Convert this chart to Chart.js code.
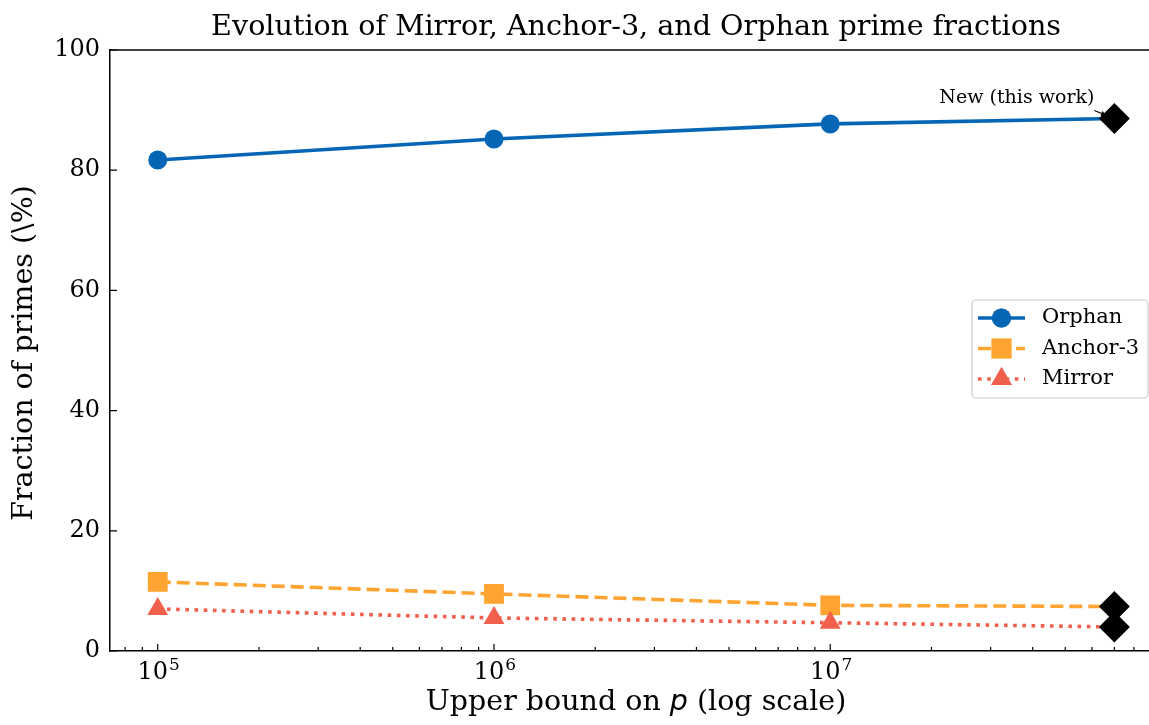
<!DOCTYPE html>
<html><head><meta charset="utf-8">
<script src="https://cdn.jsdelivr.net/npm/chart.js@4.4.1/dist/chart.umd.min.js"></script>
<style>html,body{margin:0;padding:0;background:#fff;overflow:hidden}#wrap{width:1149px;height:725px}</style>
</head><body><div id="wrap"><canvas id="c" width="1149" height="725"></canvas></div>
<script>
const titleText = "Evolution of Mirror, Anchor-3, and Orphan prime fractions";
const xLabelParts = ["Upper bound on ", "p", " (log scale)"];
const yLabel = "Fraction of primes (\\%)";
const annotationText = "New (this work)";
const seriesNames = ["Orphan", "Anchor-3", "Mirror"];
const bounds = [1e5, 1e6, 1e7, 7e7];
const orphan = [81.7, 85.2, 87.7, 88.6];
const anchor3 = [11.5, 9.5, 7.6, 7.4];
const mirror = [7.0, 5.5, 4.7, 4.0];
const newWorkX = 7e7;
const newWork = [88.6, 7.4, 4.0];
const xMajorTicks = [1e5, 1e6, 1e7];
const yTicks = [0, 20, 40, 60, 80, 100];

const SERIF = "'DejaVu Serif', serif";
const BLUE = "#0466b4", ORANGE = "#ffa431", RED = "#f0604c";
const X_MIN = Math.pow(10, 4.858), X_MAX = Math.pow(10, 7.948), X_VIRT_MAX = Math.pow(10, 7.987);

function pts(ys){ return ys.map((y,i)=>({x: bounds[i], y})); }

const decor = {
  id: 'decor',
  afterDraw(chart){
    const ctx = chart.ctx, ca = chart.chartArea, xs = chart.scales.x, ys = chart.scales.y;
    const vRight = xs.getPixelForValue(X_VIRT_MAX);
    const cx = (ca.left + vRight) / 2;
    ctx.save();
    // top spine
    ctx.strokeStyle = "#000"; ctx.lineWidth = 1.5;
    ctx.beginPath(); ctx.moveTo(ca.left, ca.top); ctx.lineTo(ca.right, ca.top); ctx.stroke();
    // inward ticks
    ctx.lineWidth = 1.2;
    ctx.beginPath();
    for (const v of xMajorTicks){ const p = xs.getPixelForValue(v); ctx.moveTo(p, ca.bottom); ctx.lineTo(p, ca.bottom - 7); }
    for (let d = 4; d <= 8; d++){
      for (let k = 2; k <= 9; k++){
        const v = k * Math.pow(10, d);
        if (v < X_MIN || v > X_MAX) continue;
        const p = xs.getPixelForValue(v); ctx.moveTo(p, ca.bottom); ctx.lineTo(p, ca.bottom - 4);
      }
    }
    for (const v of yTicks){ const p = ys.getPixelForValue(v); ctx.moveTo(ca.left, p); ctx.lineTo(ca.left + 7, p); }
    ctx.stroke();
    ctx.fillStyle = "#000";
    // x tick labels 10^n
    for (const v of xMajorTicks){
      const p = xs.getPixelForValue(v);
      const e = String(Math.round(Math.log10(v)));
      ctx.font = "24px " + SERIF; const wb = ctx.measureText("10").width;
      ctx.font = "17px " + SERIF; const we = ctx.measureText(e).width;
      const s = p - (wb + we + 1) / 2 + 1;
      ctx.textAlign = "left"; ctx.textBaseline = "alphabetic";
      ctx.font = "24px " + SERIF; ctx.fillText("10", s, 679);
      ctx.font = "17px " + SERIF; ctx.fillText(e, s + wb + 1, 670);
    }
    // title
    ctx.font = "28.6px " + SERIF; ctx.textAlign = "center"; ctx.textBaseline = "alphabetic";
    ctx.fillText(titleText, cx, 35);
    // x label with italic p
    const fN = "28.5px " + SERIF, fI = "italic 28.5px 'DejaVu Sans', sans-serif";
    ctx.font = fN; const w0 = ctx.measureText(xLabelParts[0]).width, w2 = ctx.measureText(xLabelParts[2]).width;
    ctx.font = fI; const w1 = ctx.measureText(xLabelParts[1]).width;
    let sx = cx - (w0 + w1 + w2) / 2;
    ctx.textAlign = "left";
    ctx.font = fN; ctx.fillText(xLabelParts[0], sx, 710); sx += w0;
    ctx.font = fI; ctx.fillText(xLabelParts[1], sx, 710); sx += w1;
    ctx.font = fN; ctx.fillText(xLabelParts[2], sx, 710);
    // y label
    ctx.save();
    ctx.translate(25, 353); ctx.rotate(-Math.PI / 2);
    ctx.font = "28.5px " + SERIF; ctx.textAlign = "center"; ctx.textBaseline = "middle";
    ctx.fillText(yLabel, 0, 0);
    ctx.restore();
    // annotation
    const ax = xs.getPixelForValue(newWorkX), ay = ys.getPixelForValue(newWork[0]);
    ctx.font = "19px " + SERIF; ctx.textAlign = "right"; ctx.textBaseline = "middle";
    ctx.fillText(annotationText, ax - 20, ay - 20);
    ctx.strokeStyle = "#000"; ctx.lineWidth = 1.2;
    const x0 = ax - 20, y0 = ay - 8, x1 = ax - 8, y1 = ay - 3;
    ctx.beginPath(); ctx.moveTo(x0, y0); ctx.lineTo(x1, y1); ctx.stroke();
    const ang = Math.atan2(y1 - y0, x1 - x0);
    ctx.beginPath(); ctx.moveTo(x1, y1);
    ctx.lineTo(x1 - 6 * Math.cos(ang - 0.45), y1 - 6 * Math.sin(ang - 0.45));
    ctx.lineTo(x1 - 6 * Math.cos(ang + 0.45), y1 - 6 * Math.sin(ang + 0.45));
    ctx.closePath(); ctx.fill();
    // legend
    const lx = 972, ly = 300, lw = 176, lh = 98;
    ctx.beginPath(); ctx.roundRect(lx, ly, lw, lh, 4);
    ctx.fillStyle = "rgba(255,255,255,0.85)"; ctx.fill();
    ctx.strokeStyle = "#cccccc"; ctx.lineWidth = 1.2; ctx.stroke();
    const rows = [318, 348.5, 379];
    chart.data.datasets.slice(0, 3).forEach((ds, i) => {
      const y = rows[i];
      ctx.save();
      ctx.strokeStyle = ds.borderColor; ctx.lineWidth = ds.borderWidth;
      ctx.setLineDash(ds.borderDash || []); ctx.lineCap = "butt";
      ctx.beginPath(); ctx.moveTo(978, y); ctx.lineTo(1025, y); ctx.stroke();
      ctx.setLineDash([]);
      ctx.fillStyle = ds.pointBackgroundColor; ctx.strokeStyle = ds.pointBorderColor;
      Chart.helpers.drawPoint(ctx, {pointStyle: ds.pointStyle, radius: ds.legendRadius, borderWidth: 0, rotation: 0}, 1001.5, y);
      ctx.fill();
      ctx.restore();
      ctx.fillStyle = "#000"; ctx.font = "21px " + SERIF; ctx.textAlign = "left"; ctx.textBaseline = "middle";
      ctx.fillText(ds.label, 1042, y);
    });
    ctx.restore();
  }
};

new Chart(document.getElementById('c'), {
  type: 'line',
  data: {
    datasets: [
      { label: seriesNames[0], data: pts(orphan), borderColor: BLUE, backgroundColor: BLUE,
        pointBackgroundColor: BLUE, pointBorderColor: BLUE, borderWidth: 3.6,
        pointStyle: 'circle', pointRadius: [9.5, 9.5, 9.5, 0], pointBorderWidth: 0, legendRadius: 9.5, order: 3 },
      { label: seriesNames[1], data: pts(anchor3), borderColor: ORANGE, backgroundColor: ORANGE,
        pointBackgroundColor: ORANGE, pointBorderColor: ORANGE, borderWidth: 3.6, borderDash: [13, 6],
        pointStyle: 'rect', pointRadius: [14, 14, 14, 0], pointBorderWidth: 0, legendRadius: 14, order: 2 },
      { label: seriesNames[2], data: pts(mirror), borderColor: RED, backgroundColor: RED,
        pointBackgroundColor: RED, pointBorderColor: RED, borderWidth: 3.6, borderDash: [3.6, 5.6],
        pointStyle: 'triangle', pointRadius: [12, 12, 12, 0], pointBorderWidth: 0, legendRadius: 12, order: 1 },
      { label: 'New', data: newWork.map(y => ({x: newWorkX, y})), showLine: false,
        pointStyle: 'rectRot', pointRadius: 15.5, pointBackgroundColor: '#000', pointBorderColor: '#000',
        pointBorderWidth: 0, order: 0 }
    ]
  },
  options: {
    responsive: false, animation: false, devicePixelRatio: 1,
    layout: { autoPadding: false, padding: { top: 50, right: 0, left: 0, bottom: 0 } },
    elements: { line: { tension: 0, borderCapStyle: 'butt' } },
    plugins: { legend: { display: false }, tooltip: { enabled: false }, title: { display: false } },
    scales: {
      x: {
        type: 'logarithmic', min: X_MIN, max: X_MAX,
        afterBuildTicks: s => { s.ticks = xMajorTicks.map(v => ({value: v})); },
        afterFit: s => { s.height = 74; s.paddingLeft = 0; s.paddingRight = 0; },
        ticks: { display: false },
        grid: { display: false, drawTicks: false },
        border: { display: true, color: '#000', width: 1.5 }
      },
      y: {
        min: 0, max: 100,
        afterBuildTicks: s => { s.ticks = yTicks.map(v => ({value: v})); },
        afterFit: s => { s.width = 110; s.paddingTop = 0; s.paddingBottom = 0; },
        ticks: { font: { family: SERIF, size: 24 }, color: '#000', padding: 10 },
        grid: { display: false, drawTicks: false },
        border: { display: true, color: '#000', width: 1.5 }
      }
    }
  },
  plugins: [decor]
});
</script>
</body></html>
